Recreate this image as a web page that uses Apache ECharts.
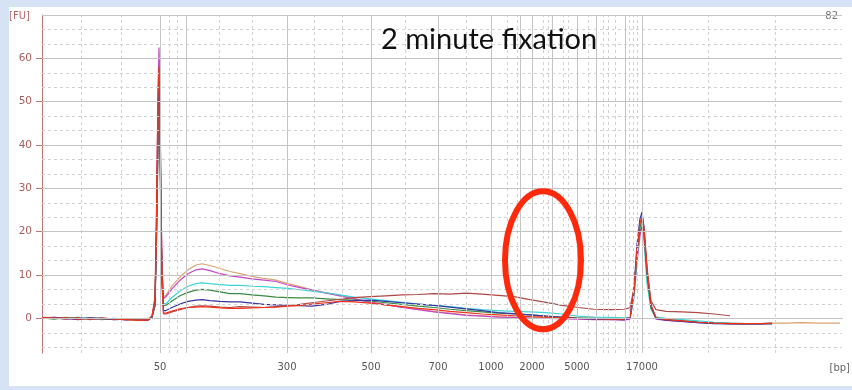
<!DOCTYPE html>
<html>
<head>
<meta charset="utf-8">
<script src="https://cdn.jsdelivr.net/npm/echarts@6/dist/echarts.min.js"></script>
<style>
  html, body { margin: 0; padding: 0; }
  #chart { width: 852px; height: 390px; }
</style>
</head>
<body>
<div id="chart"></div>
<script>
// migration position (arbitrary units along the run), shared by all traces
const posX = [0, 12, 24, 36, 48, 60, 72, 84, 96, 106, 110, 113, 114.5, 116, 117, 118, 119, 120, 121.5,
  124, 130, 138, 146, 154, 160, 168, 178, 188, 198, 210, 222, 234, 246, 258, 270, 284, 298, 312, 328,
  344, 360, 376, 392, 408, 424, 440, 456, 472, 488, 504, 520, 536, 552, 568, 582, 588, 592, 595, 598,
  600, 602, 605, 609, 614, 624, 640, 656, 672, 688, 704, 720, 730, 744, 760, 776, 798];

// fluorescence [FU] per sample
const tanFU = [0.2, -0.1, 0.1, 0.0, -0.2, 0.1, -0.3, -0.2, -0.4, -0.3, 0.4, 4, 24, 50, 60, 47, 26, 11, 4.9,
  5.3, 7.5, 9.5, 11.2, 12.3, 12.6, 12.2, 11.5, 10.8, 10.3, 9.7, 9.2, 8.8, 8.0, 7.3, 6.6, 5.9, 5.3, 4.6, 3.8,
  3.2, 2.6, 2.1, 1.6, 1.2, 0.8, 0.6, 0.4, 0.2, 0.1, 0.1, 0, -0.1, -0.2, -0.3, -0.3, 0,
  6, 14, 20, 22.5, 20, 11, 3, 0.2, -0.4, -0.6, -0.8, -1.0, -1.1, -1.2, -1.2, -1.1, -1.1, -1.0, -1.1, -1.1];
const magentaFU = [0.1, 0.2, -0.2, 0.1, -0.1, -0.3, 0.0, -0.4, -0.2, -0.5, 0.3, 3, 22, 52, 62.5, 50, 28, 12, 4.6,
  5.0, 6.8, 8.8, 10.3, 11.2, 11.4, 11.0, 10.3, 9.8, 9.5, 9.1, 8.8, 8.5, 7.7, 7.1, 6.5, 5.8, 5.2, 4.5, 3.7,
  3.1, 2.5, 2.0, 1.5, 1.1, 0.7, 0.5, 0.3, 0.2, 0.0, 0.0, -0.1, -0.2, -0.3, -0.3, -0.4, -0.2,
  5, 13, 19, 21.5, 19, 10, 2.5, -0.2, -0.5, -0.7, -1.0, -1.1, -1.2, -1.3, -1.2, -1.2, null, null, null, null];
const cyanFU = [0.3, 0.0, -0.1, 0.2, 0.0, -0.2, -0.1, -0.3, -0.3, -0.2, 0.6, 4, 18, 38, 45, 36, 20, 8, 3.4,
  3.4, 4.8, 6.3, 7.4, 8.0, 8.2, 8.0, 7.8, 7.6, 7.6, 7.4, 7.3, 7.1, 6.9, 6.6, 6.3, 5.9, 5.4, 4.9, 4.5,
  4.1, 3.7, 3.3, 3.0, 2.7, 2.3, 2.0, 1.8, 1.6, 1.5, 1.3, 1.0, 0.5, 0.3, 0.2, 0.1, 0.3,
  5, 14, 20.5, 22, 18, 8, 2, 0.3, 0.0, -0.3, -0.6, -0.9, -1.1, -1.2, -1.2, -1.1, null, null, null, null];
const greenFU = [0.1, -0.2, 0.2, -0.1, 0.1, -0.2, -0.2, -0.1, -0.4, -0.3, 0.5, 4, 20, 42, 47, 39, 21, 9, 3.0,
  3.0, 4.0, 5.2, 6.0, 6.5, 6.7, 6.5, 6.1, 5.7, 5.7, 5.4, 5.2, 4.9, 4.8, 4.7, 4.7, 4.5, 4.3, 4.2, 4.0,
  3.6, 3.2, 2.8, 2.5, 2.1, 1.8, 1.5, 1.2, 1.0, 0.8, 0.5, 0.3, 0.1, 0, -0.1, -0.1, 0.2,
  6, 15, 21, 23, 20, 10, 2.5, 0, -0.3, -0.6, -0.9, -1.1, -1.2, -1.3, -1.2, -1.2, null, null, null, null];
const navyFU = [-0.1, 0.2, 0.0, -0.3, 0.1, 0.0, -0.3, -0.2, -0.3, -0.4, 0.2, 3, 20, 45, 54, 44, 24, 9, 1.8,
  1.8, 2.5, 3.3, 3.9, 4.2, 4.3, 4.1, 3.9, 3.8, 3.8, 3.5, 3.2, 3.1, 3.0, 2.9, 2.8, 3.2, 3.9, 4.1, 4.2,
  3.9, 3.6, 3.3, 3.0, 2.6, 2.2, 1.8, 1.3, 1.1, 0.8, 0.5, 0.2, 0, -0.2, -0.2, -0.3, 0,
  7, 17, 23, 24.5, 21, 11, 3, 0, -0.4, -0.7, -1.0, -1.2, -1.3, -1.3, -1.3, -1.2, null, null, null, null];
const maroonFU = [0.0, 0.1, -0.2, 0.2, -0.3, 0.1, -0.2, -0.3, -0.2, -0.3, 0.3, 3, 18, 40, 50, 41, 22, 8, 1.0,
  1.0, 1.5, 2.0, 2.5, 2.8, 2.9, 2.8, 2.6, 2.5, 2.7, 2.6, 2.5, 2.7, 2.9, 3.2, 3.6, 4.0, 4.4, 4.8, 5.0,
  5.2, 5.4, 5.5, 5.7, 5.6, 5.8, 5.6, 5.3, 5.0, 4.3, 3.7, 3.0, 2.5, 2.1, 2.0, 2.1, 2.4,
  7, 15, 20, 21, 19, 11, 4, 2.0, 1.6, 1.5, 1.3, 1.0, 0.6, null, null, null, null, null, null, null];
const redFU = [0.2, 0.0, 0.1, -0.2, 0.0, -0.1, -0.1, -0.3, -0.5, -0.4, 0.4, 5, 25, 51, 58, 48, 27, 11, 1.2,
  1.2, 1.7, 2.2, 2.5, 2.6, 2.7, 2.6, 2.4, 2.3, 2.3, 2.4, 2.5, 2.6, 2.8, 3.0, 3.3, 3.6, 3.9, 3.8, 3.5,
  3.1, 2.7, 2.3, 2.0, 1.6, 1.3, 1.0, 0.8, 0.6, 0.4, 0.3, 0.1, 0, -0.1, -0.2, -0.2, 0.2,
  6, 16, 22, 23.5, 21, 12, 3, 0.1, -0.3, -0.6, -0.9, -1.1, -1.2, -1.2, -1.2, -1.1, null, null, null, null];

// ladder sizes on the x axis
const ladderPos = [118, 144, 245, 329, 396, 449, 478, 490, 510, 535, 554, 583, 600];
const bpPos = [118, 245, 329, 396, 449, 490, 535, 600];
const bpLabels = ['50', '300', '500', '700', '1000', '2000', '5000', '17000'];
const minorX = [39, 79, 127, 135, 177, 210, 272, 300, 363, 424, 465, 475, 501, 506, 521, 526, 546,
  561, 566, 573, 587, 591, 595, 666, 733];
const fuTicks = [0, 10, 20, 30, 40, 50, 60];
const fuMinor = [-6.67, -3.33, 3.33, 6.67, 13.33, 16.67, 23.33, 26.67, 33.33, 36.67, 43.33, 46.67,
  53.33, 56.67, 63.33, 66.67];

let traces = [
  { name: 'tan', color: '#d8a474', data: tanFU },
  { name: 'magenta', color: '#c646c8', data: magentaFU },
  { name: 'cyan', color: '#3fd3d6', data: cyanFU },
  { name: 'green', color: '#3c8a44', data: greenFU },
  { name: 'navy', color: '#3434a8', data: navyFU },
  { name: 'maroon', color: '#b04848', data: maroonFU },
  { name: 'red', color: '#f0321a', data: redFU }
];

let chart = echarts.init(document.getElementById('chart'));

// grid lines as mark lines so that solid and dashed lines can be mixed
let gridLines = [];
ladderPos.forEach(function(v) {
  gridLines.push({ xAxis: v, lineStyle: { color: '#c4c4c4', type: 'solid', width: 1 } });
});
minorX.forEach(function(v) {
  gridLines.push({ xAxis: v, lineStyle: { color: '#d2d2d2', type: [3, 3], width: 1 } });
});
fuTicks.concat([70]).forEach(function(v) {
  gridLines.push({ yAxis: v, lineStyle: { color: '#c4c4c4', type: 'solid', width: 1 } });
});
fuMinor.forEach(function(v) {
  gridLines.push({ yAxis: v, lineStyle: { color: '#d2d2d2', type: [3, 3], width: 1 } });
});

let series = [{
  name: 'grid',
  type: 'line',
  data: [],
  z: 1,
  silent: true,
  markLine: {
    silent: true,
    symbol: ['none', 'none'],
    label: { show: false },
    animation: false,
    data: gridLines
  }
}];
traces.forEach(function(t) {
  series.push({
    name: t.name,
    type: 'line',
    z: 3,
    showSymbol: false,
    connectNulls: false,
    lineStyle: { color: t.color, width: 1.2 },
    itemStyle: { color: t.color },
    data: posX.map(function(x, i) { return [x, t.data[i]]; })
  });
});

let option = {
  animation: false,
  backgroundColor: '#d5e3f4',
  grid: { left: 42, right: 10, top: 15, bottom: 37 },
  xAxis: {
    type: 'value',
    min: 0,
    max: 800,
    axisLine: { show: true, lineStyle: { color: '#6a6a6a', width: 1 } },
    axisTick: { show: true, length: 5, customValues: ladderPos, lineStyle: { color: '#6a6a6a' } },
    axisLabel: {
      customValues: bpPos,
      margin: 9,
      color: '#555',
      fontFamily: 'DejaVu Sans',
      fontSize: 10,
      formatter: function(v) {
        let i = bpPos.indexOf(v);
        return i >= 0 ? bpLabels[i] : '';
      }
    },
    splitLine: { show: false }
  },
  yAxis: {
    type: 'value',
    min: -8,
    max: 70,
    axisLine: { show: true, lineStyle: { color: '#c07474', width: 1 } },
    axisTick: { show: true, length: 6, customValues: fuTicks, lineStyle: { color: '#c07474' } },
    axisLabel: {
      customValues: fuTicks,
      margin: 10,
      color: '#a85e5e',
      fontFamily: 'DejaVu Sans',
      fontSize: 10.5
    },
    splitLine: { show: false }
  },
  graphic: [
    { type: 'rect', id: 'paper', z: -10, shape: { x: 9, y: 7, width: 843, height: 379 }, style: { fill: '#fff' } },
    { type: 'text', id: 'fu', x: 9, y: 16, style: { text: '[FU]', fill: '#b06464', font: '10px "DejaVu Sans"', textVerticalAlign: 'middle' } },
    { type: 'text', id: 'bp', x: 850, y: 368, style: { text: '[bp]', fill: '#666', font: '10px "DejaVu Sans"', textAlign: 'right', textVerticalAlign: 'middle' } },
    { type: 'text', id: 'max', x: 838, y: 16, style: { text: '82', fill: '#777', font: '10px "DejaVu Sans"', textAlign: 'right', textVerticalAlign: 'middle' } },
    { type: 'text', id: 'title', x: 381, y: 40, z: 10, style: { text: '2 minute fixation', fill: '#111', font: '29px Lato', textVerticalAlign: 'middle' } }
  ],
  series: series
};

chart.setOption(option);

// red annotation oval around the 2000-5000 bp region
let c = chart.convertToPixel({ gridIndex: 0 }, [501, 13.4]);
chart.setOption({
  graphic: [{
    type: 'ellipse', id: 'oval', z: 20,
    shape: { cx: c[0], cy: c[1], rx: 38, ry: 69 },
    style: { fill: 'none', stroke: '#ff2a0c', lineWidth: 6 }
  }]
});
</script>
</body>
</html>
